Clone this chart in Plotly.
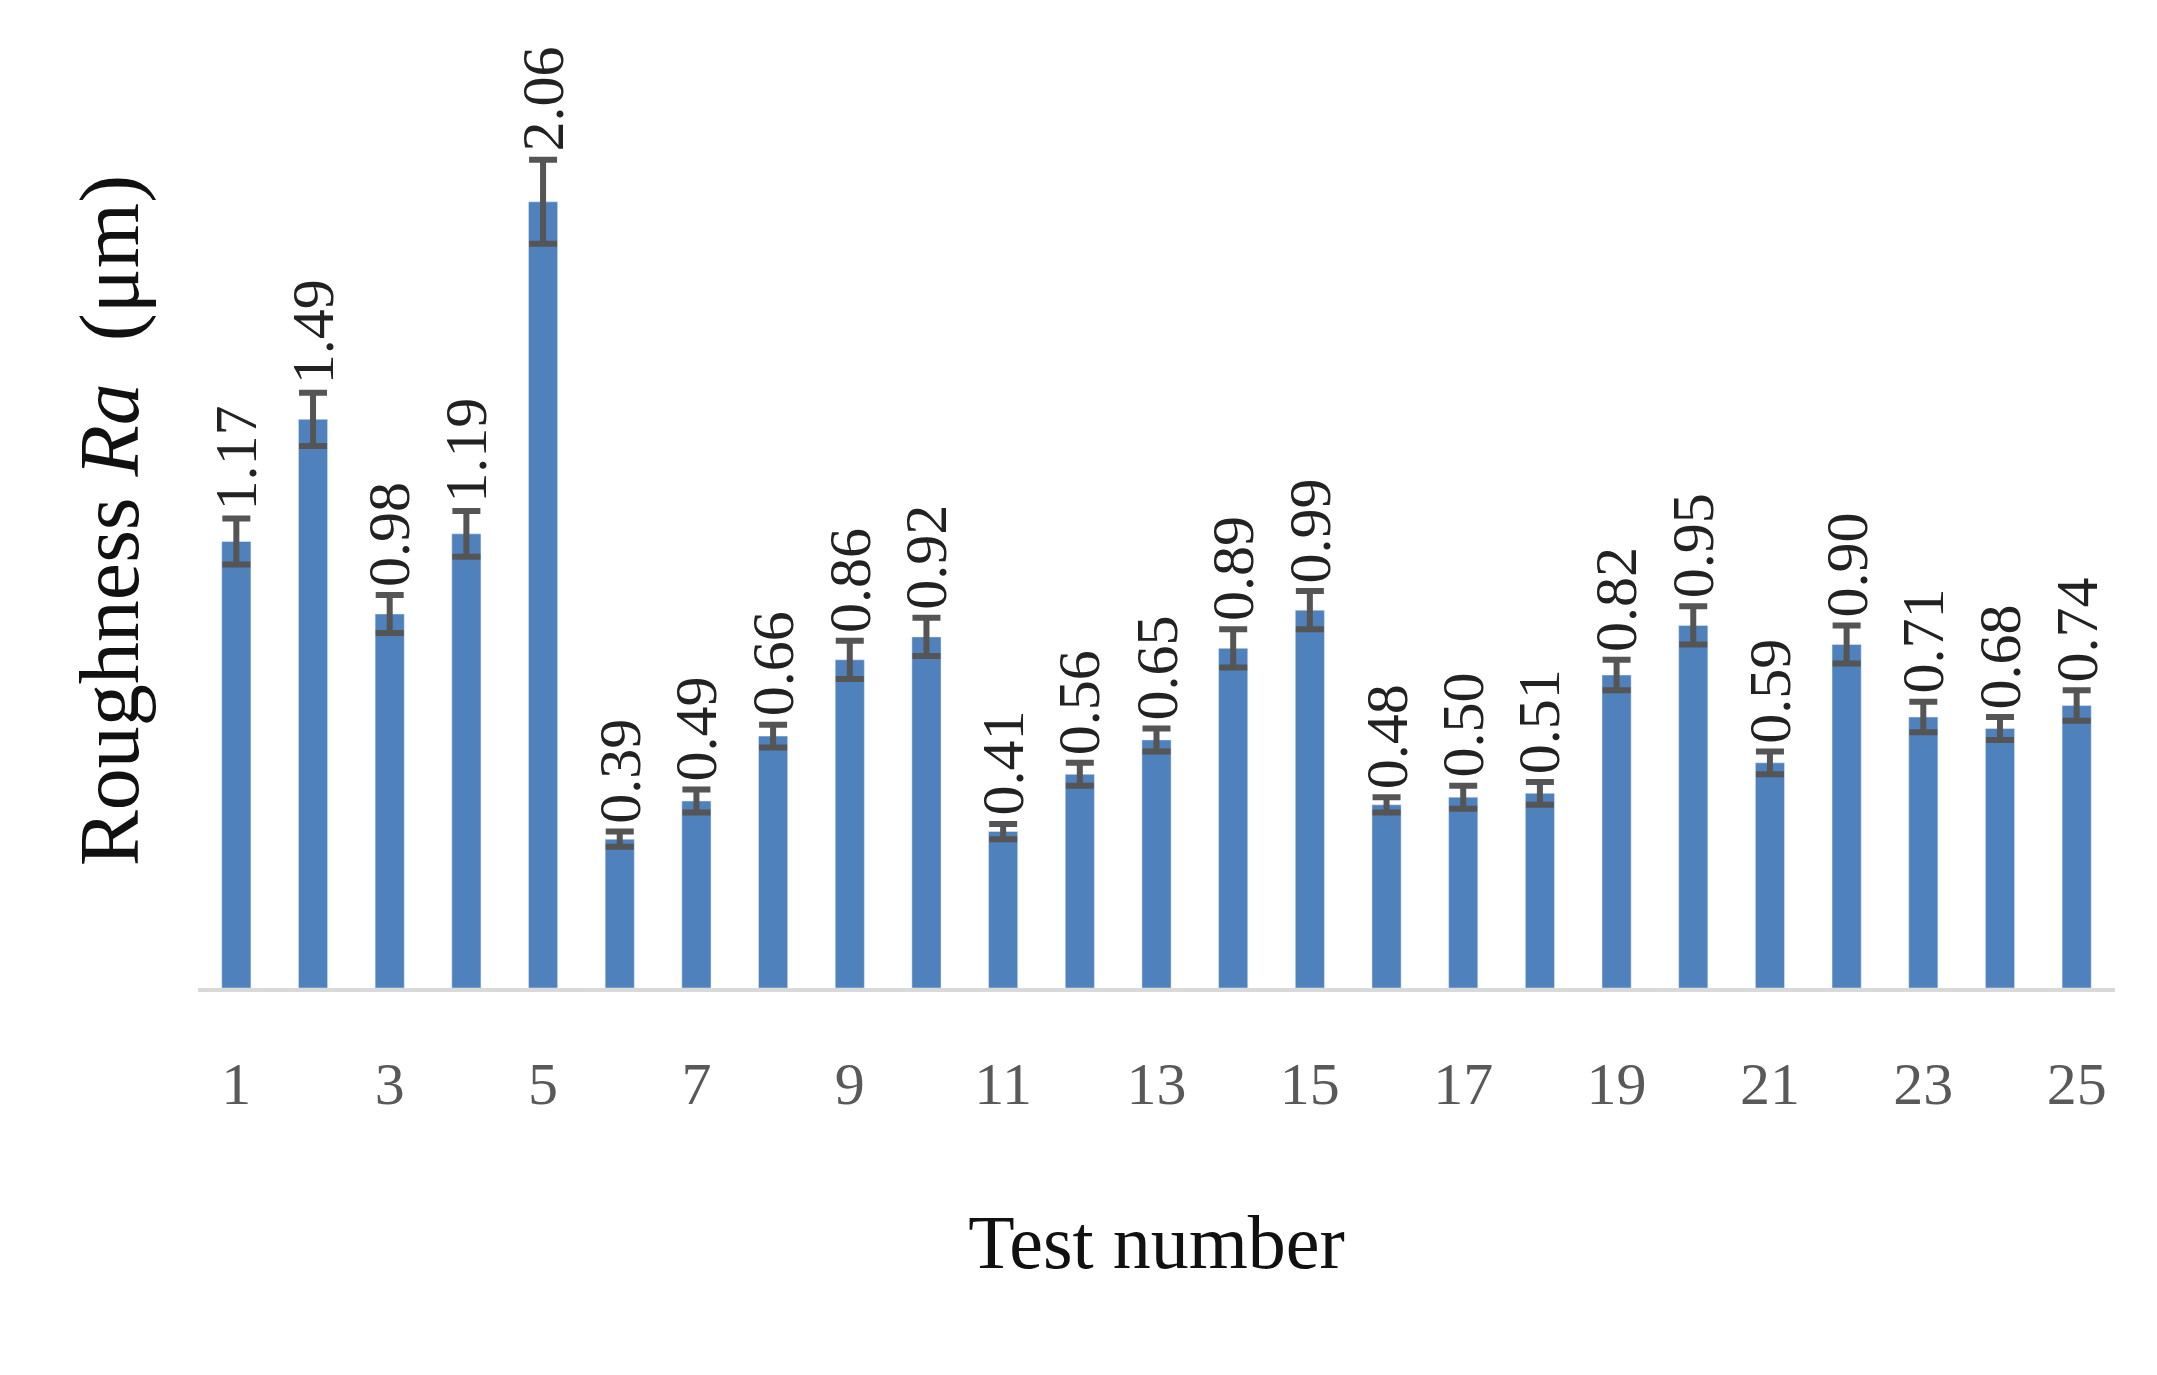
import plotly.graph_objects as go

tests = list(range(1, 26))
ra = [1.17, 1.49, 0.98, 1.19, 2.06, 0.39, 0.49, 0.66, 0.86, 0.92, 0.41, 0.56, 0.65,
      0.89, 0.99, 0.48, 0.50, 0.51, 0.82, 0.95, 0.59, 0.90, 0.71, 0.68, 0.74]
err = [0.06, 0.07, 0.05, 0.06, 0.11, 0.02, 0.03, 0.03, 0.05, 0.05, 0.02, 0.03, 0.03,
       0.05, 0.05, 0.02, 0.03, 0.03, 0.04, 0.05, 0.03, 0.05, 0.04, 0.03, 0.04]
tick_vals = list(range(1, 26, 2))

font = "Liberation Serif"
fig = go.Figure(go.Bar(
    x=tests, y=ra, marker_color="#4f81bd", width=0.38,
    error_y=dict(type="data", array=err, color="#555555", thickness=6, width=14),
))
for t, v, e in zip(tests, ra, err):
    fig.add_annotation(x=t, y=v + e, text=f"{v:.2f}", textangle=-90, showarrow=False,
                       yanchor="bottom", xanchor="center", yshift=6,
                       font=dict(family=font, size=60, color="#222222"))
fig.update_layout(
    width=2157, height=1375, paper_bgcolor="white", plot_bgcolor="white",
    margin=dict(l=190, r=50, t=45, b=395), showlegend=False,
    font=dict(family=font),
    xaxis=dict(tickvals=tick_vals, ticktext=[str(t) for t in tick_vals], range=[0.5, 25.5],
               showline=True, linecolor="#d9d9d9", linewidth=4, ticks="",
               tickfont=dict(size=60, color="#595959"), ticklabelstandoff=40,
               title=dict(text="Test number", font=dict(size=76, color="#111111"), standoff=100)),
    yaxis=dict(range=[0, 2.45], showgrid=False, showticklabels=False, zeroline=False,
               title=dict(text="Roughness <i>Ra</i>  (μm)", font=dict(size=84, color="#111111"),
                          standoff=30)),
)
fig.write_html("out.html")
